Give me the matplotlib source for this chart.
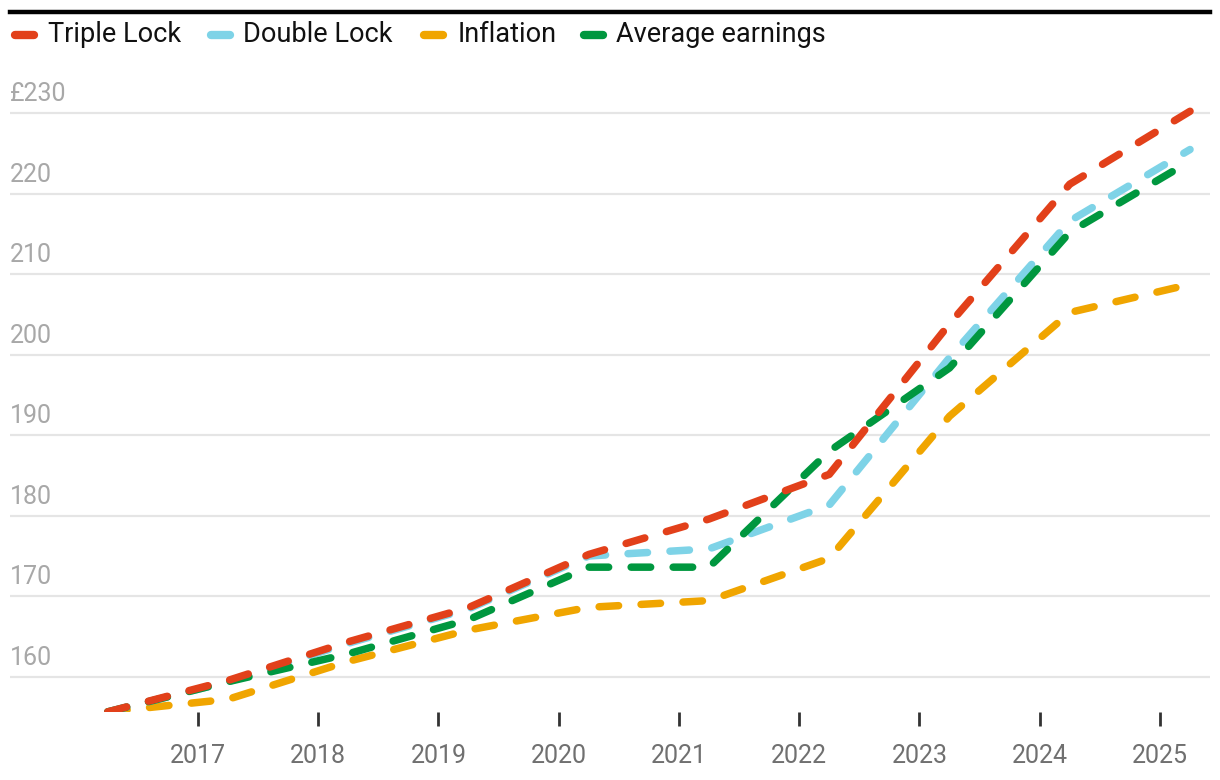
import matplotlib
matplotlib.use('Agg')
import matplotlib.pyplot as plt
from matplotlib.lines import Line2D
import matplotlib.transforms as mtransforms

plt.rcParams['font.family'] = ['Roboto', 'DejaVu Sans']

# uprating dates (April of each year)
years = [2016.25, 2017.25, 2018.25, 2019.25, 2020.25, 2021.25, 2022.25, 2023.25, 2024.25, 2025.25]

# weekly full state pension, £
triple_lock = [155.65, 159.55, 164.35, 168.60, 175.20, 179.60, 185.15, 203.85, 221.20, 230.25]
double_lock = [155.65, 159.39, 164.17, 168.44, 175.01, 175.89, 181.34, 199.65, 216.62, 225.50]
inflation = [155.65, 157.21, 161.92, 165.81, 168.63, 169.47, 174.72, 192.37, 205.26, 208.75]
avg_earnings = [155.65, 159.39, 162.86, 167.10, 173.62, 173.62, 188.03, 198.37, 215.23, 224.05]

series_names = ['Triple Lock', 'Double Lock', 'Inflation', 'Average earnings']
colors = ['#e2401a', '#7ed3e7', '#f0a500', '#00973f']

xtick_years = [2017, 2018, 2019, 2020, 2021, 2022, 2023, 2024, 2025]
ytick_vals = [160, 170, 180, 190, 200, 210, 220, 230]
ytick_labels = ['160', '170', '180', '190', '200', '210', '220', '£230']

W, H = 1220, 780
fig = plt.figure(figsize=(W / 100, H / 100), dpi=100)
ax = fig.add_axes([10 / W, (H - 712) / H, 1200 / W, 612 / H])

ax.set_xlim(2015.437, 2025.416)
ax.set_ylim(155.63, 231.65)

# gridlines
for v in ytick_vals:
    ax.axhline(v, color='#e5e5e5', lw=1.6, zorder=1)

# y labels sit above their gridline
offset = mtransforms.offset_copy(ax.get_yaxis_transform(), fig=fig, x=0, y=7, units='dots')
for v, lab in zip(ytick_vals, ytick_labels):
    ax.text(0, v, lab, transform=offset, ha='left', va='bottom',
            fontsize=18, color='#a8a8a8')

lw = 5.4
dash = (2.6, 3.0)
data = [triple_lock, double_lock, inflation, avg_earnings]
zorders = [6, 4, 3, 5]
for vals, c, z in zip(data, colors, zorders):
    ax.plot(years, vals, color=c, lw=lw, dashes=dash,
            dash_capstyle='round', solid_joinstyle='round', zorder=z)

ax.set_xticks(xtick_years)
ax.set_xticklabels([str(y) for y in xtick_years])
ax.tick_params(axis='x', length=10, width=2, color='#333333', pad=13,
               labelsize=18, labelcolor='#707070')
ax.set_yticks([])
for s in ax.spines.values():
    s.set_visible(False)

# top rule
fig.add_artist(Line2D([10 / W, 1210 / W], [1 - 12 / H, 1 - 12 / H],
                      color='black', lw=3.2, transform=fig.transFigure))

# legend, drawn by hand
handle_x = [11, 207, 420, 580]
text_x = [48, 243, 458, 616]
ly = 1 - 35 / H
for hx, tx, c, name in zip(handle_x, text_x, colors, series_names):
    fig.add_artist(Line2D([(hx + 4) / W, (hx + 23) / W], [ly, ly], color=c, lw=6,
                          solid_capstyle='round', transform=fig.transFigure))
    fig.text(tx / W, ly, name, ha='left', va='center', fontsize=19.5, color='#111111')

fig.savefig('out.png', dpi=100)
